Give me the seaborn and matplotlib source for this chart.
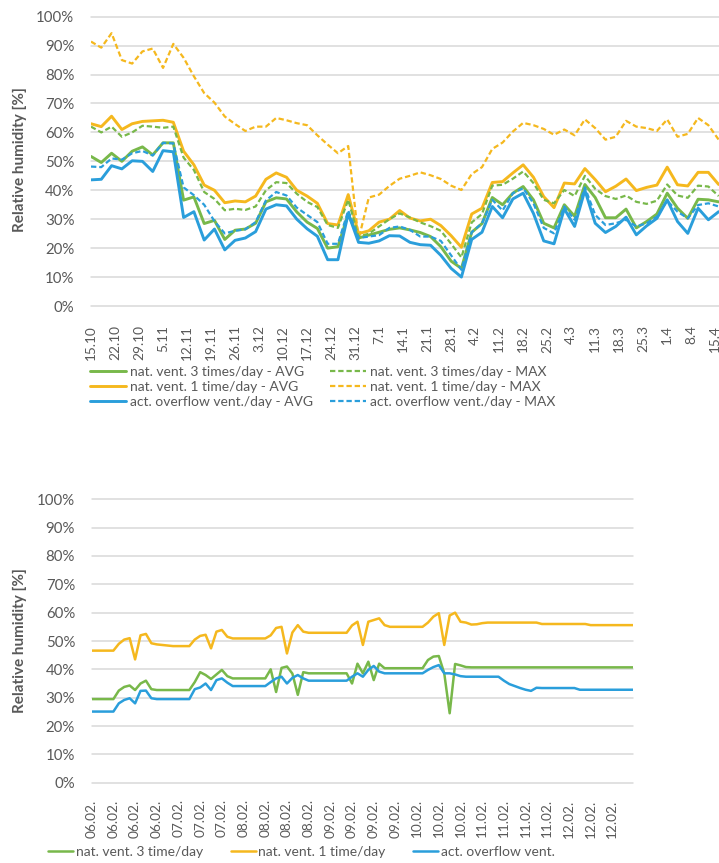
import numpy as np
import pandas as pd
import seaborn as sns
import matplotlib.pyplot as plt
from matplotlib.ticker import FuncFormatter

# ---- top chart: relative humidity, Oct 15 - Apr 15, sampled every 3 days ----
days = list(range(0, 184, 3))
week_ticks = list(range(0, 183, 7))
week_labels = ["15.10", "22.10", "29.10", "5.11", "12.11", "19.11", "26.11",
               "3.12", "10.12", "17.12", "24.12", "31.12", "7.1", "14.1",
               "21.1", "28.1", "4.2", "11.2", "18.2", "25.2", "4.3", "11.3",
               "18.3", "25.3", "1.4", "8.4", "15.4"]

green_avg = [51.7, 49.6, 52.8, 50.0, 53.5, 55.0, 52.2, 56.4, 56.4, 36.6,
             37.7, 28.5, 29.6, 23.0, 26.2, 26.6, 28.6, 36.0, 37.4, 37.0,
             32.5, 29.0, 26.8, 20.0, 20.5, 31.8, 23.5, 24.5, 25.5, 26.5,
             27.0, 26.3, 25.4, 24.0, 20.5, 15.5, 13.0, 25.5, 28.5, 37.5,
             35.0, 39.0, 41.3, 36.7, 28.6, 27.0, 35.0, 31.0, 42.0, 37.5,
             30.5, 30.5, 33.5, 27.0, 29.2, 31.8, 39.0, 33.8, 30.3, 36.9,
             36.7, 36.0]
green_max = [62.0, 60.0, 62.0, 58.5, 60.0, 62.3, 62.0, 61.6, 62.0, 51.3,
             47.0, 39.4, 37.0, 33.1, 33.6, 33.2, 34.4, 40.0, 42.8, 42.5,
             38.8, 36.0, 34.2, 28.0, 27.0, 36.7, 24.0, 25.0, 27.5, 30.0,
             32.0, 30.6, 28.9, 27.6, 26.0, 21.5, 16.8, 28.9, 31.8, 41.6,
             41.9, 44.0, 46.5, 42.5, 36.7, 35.5, 40.1, 38.0, 45.0, 40.5,
             38.0, 37.0, 38.2, 36.0, 35.3, 36.4, 42.0, 38.2, 37.4, 41.6,
             41.3, 38.0]
gold_avg = [63.0, 62.0, 65.6, 61.0, 63.0, 63.8, 64.0, 64.2, 63.5, 53.5,
            48.8, 41.8, 40.0, 35.7, 36.3, 36.0, 38.0, 43.8, 46.0, 44.5,
            40.0, 38.0, 35.5, 28.5, 28.0, 38.5, 25.0, 26.0, 29.0, 30.0,
            33.0, 30.4, 29.4, 30.0, 27.8, 24.3, 20.3, 31.8, 33.8, 42.7,
            43.0, 46.0, 48.8, 44.5, 37.8, 34.0, 42.5, 42.2, 47.5, 43.7,
            39.5, 41.4, 43.9, 39.9, 41.0, 41.8, 48.0, 41.9, 41.5, 46.2,
            46.2, 42.0]
gold_max = [91.4, 89.3, 94.3, 85.0, 83.8, 88.0, 89.0, 82.3, 90.6, 85.8,
            79.4, 73.6, 70.3, 65.5, 62.9, 60.5, 62.0, 62.0, 65.0, 64.2,
            63.2, 62.5, 59.0, 55.8, 52.8, 55.3, 23.0, 37.5, 38.5, 41.5,
            44.0, 45.0, 46.2, 45.2, 43.9, 41.6, 40.1, 45.6, 48.0, 54.3,
            56.5, 60.3, 63.3, 62.5, 61.2, 59.2, 61.0, 59.0, 64.5, 61.5,
            57.5, 58.5, 64.0, 62.0, 61.5, 60.5, 64.5, 58.5, 59.5, 65.0,
            62.5, 57.5]
blue_avg = [43.6, 43.8, 48.5, 47.4, 50.2, 50.0, 46.5, 53.7, 53.3, 30.6,
            32.6, 22.8, 26.6, 19.4, 22.7, 23.5, 25.7, 33.5, 35.0, 34.6,
            30.0, 26.7, 24.1, 16.0, 16.0, 32.0, 22.0, 21.7, 22.5, 24.3,
            24.2, 22.0, 21.2, 21.0, 17.5, 13.0, 10.0, 23.0, 25.5, 34.4,
            30.5, 37.0, 39.0, 32.0, 22.5, 21.5, 33.6, 27.5, 40.0, 28.6,
            25.4, 27.5, 30.7, 24.6, 27.7, 30.3, 36.7, 29.2, 25.1, 33.8,
            29.8, 32.6]
blue_max = [48.2, 48.0, 51.0, 50.6, 52.8, 53.6, 52.0, 56.4, 56.2, 41.0,
            38.3, 35.0, 29.3, 25.1, 26.0, 26.5, 29.0, 36.5, 39.4, 38.2,
            34.0, 31.5, 29.0, 21.5, 21.5, 33.0, 23.5, 24.0, 24.5, 27.0,
            27.5, 26.3, 24.0, 24.0, 22.5, 17.5, 12.5, 25.5, 28.6, 36.7,
            33.0, 39.0, 40.7, 35.5, 27.0, 25.1, 34.4, 29.8, 41.0, 31.5,
            28.0, 28.6, 29.8, 27.5, 28.6, 30.9, 36.4, 32.6, 30.3, 34.9,
            35.5, 34.4]

# ---- bottom chart: Feb 6 - Feb 12, sampled every quarter label step ----
steps = [i * 0.25 for i in range(101)]
feb_labels = (["06.02."] * 4 + ["07.02."] * 3 + ["08.02."] * 4 + ["09.02."] * 4
              + ["10.02."] * 3 + ["11.02."] * 4 + ["12.02."] * 3)

vent3 = [29.5, 29.5, 29.5, 29.5, 29.5, 32.5, 33.8, 34.3, 32.7, 35.0,
         36.0, 33.0, 32.7, 32.7, 32.7, 32.7, 32.7, 32.7, 32.7, 35.5,
         39.0, 38.0, 36.6, 38.2, 39.8, 37.6, 36.8, 36.8, 36.8, 36.8,
         36.8, 36.8, 36.8, 40.0, 32.0, 40.5, 41.0, 38.5, 31.0, 39.0,
         38.6, 38.6, 38.6, 38.6, 38.6, 38.6, 38.6, 38.6, 35.0, 42.0,
         38.6, 42.7, 36.2, 42.0, 40.4, 40.4, 40.4, 40.4, 40.4, 40.4,
         40.4, 40.4, 43.3, 44.5, 44.7, 38.6, 24.5, 41.9, 41.4, 40.8,
         40.7, 40.7, 40.7, 40.7, 40.7, 40.7, 40.7, 40.7, 40.7, 40.7,
         40.7, 40.7, 40.7, 40.7, 40.7, 40.7, 40.7, 40.7, 40.7, 40.7,
         40.7, 40.7, 40.7, 40.7, 40.7, 40.7, 40.7, 40.7, 40.7, 40.7,
         40.7]
vent1 = [46.6, 46.6, 46.6, 46.6, 46.6, 49.0, 50.5, 51.0, 43.5, 52.0,
         52.5, 49.2, 48.8, 48.6, 48.4, 48.2, 48.2, 48.2, 48.2, 50.5,
         51.8, 52.2, 47.4, 53.3, 53.9, 51.5, 50.9, 50.9, 50.9, 50.9,
         50.9, 50.9, 50.9, 52.0, 54.6, 55.0, 45.6, 53.0, 55.6, 53.3,
         52.9, 52.9, 52.9, 52.9, 52.9, 52.9, 52.9, 52.9, 55.5, 56.8,
         48.6, 56.8, 57.4, 58.0, 55.6, 55.0, 55.0, 55.0, 55.0, 55.0,
         55.0, 55.0, 56.5, 58.6, 59.8, 48.6, 59.0, 60.0, 56.8, 56.5,
         55.8, 55.9, 56.3, 56.5, 56.5, 56.5, 56.5, 56.5, 56.5, 56.5,
         56.5, 56.5, 56.5, 56.0, 56.0, 56.0, 56.0, 56.0, 56.0, 56.0,
         56.0, 56.0, 55.6, 55.6, 55.6, 55.6, 55.6, 55.6, 55.6, 55.6,
         55.6]
overflow = [25.1, 25.1, 25.1, 25.1, 25.1, 28.0, 29.2, 29.8, 28.0, 32.4,
            32.5, 29.8, 29.5, 29.5, 29.5, 29.5, 29.5, 29.5, 29.5, 33.0,
            33.6, 35.0, 32.7, 36.2, 36.8, 35.3, 34.1, 34.1, 34.1, 34.1,
            34.1, 34.1, 34.1, 35.5, 36.8, 37.4, 35.0, 37.0, 38.0, 36.8,
            36.0, 36.0, 36.0, 36.0, 36.0, 36.0, 36.0, 36.0, 37.4, 38.6,
            37.4, 39.8, 41.2, 39.2, 38.6, 38.6, 38.6, 38.6, 38.6, 38.6,
            38.6, 38.6, 39.8, 40.8, 41.5, 38.6, 38.6, 38.2, 37.6, 37.4,
            37.4, 37.4, 37.4, 37.4, 37.4, 37.4, 36.0, 34.8, 34.1, 33.4,
            32.8, 32.4, 33.5, 33.4, 33.4, 33.4, 33.4, 33.4, 33.4, 33.4,
            32.8, 32.8, 32.8, 32.8, 32.8, 32.8, 32.8, 32.8, 32.8, 32.8,
            32.8]

GREEN = "#78B84A"
GOLD = "#F5B81E"
BLUE = "#2A9EDB"
GRID = "#D9D9D9"
TXT = "#595959"

top_df = pd.DataFrame({"day": days, "green_avg": green_avg, "green_max": green_max,
                       "gold_avg": gold_avg, "gold_max": gold_max,
                       "blue_avg": blue_avg, "blue_max": blue_max})
bot_df = pd.DataFrame({"step": steps, "vent3": vent3, "vent1": vent1,
                       "overflow": overflow})

sns.set_theme(style="white")
plt.rcParams['font.family'] = ['Lato', 'DejaVu Sans']

W, H = 719, 863
fig = plt.figure(figsize=(W / 100, H / 100), dpi=100)
ax1 = fig.add_axes([91 / W, 1 - 306 / H, 628 / W, 289.3 / H])
ax2 = fig.add_axes([91.7 / W, 1 - 782.7 / H, 541.3 / W, 283.4 / H])

dash = (0, (2.4, 1.3))
top_series = [
    ("green_avg", GREEN, "-", 2.1, "nat. vent. 3 times/day - AVG"),
    ("gold_avg", GOLD, "-", 2.1, "nat. vent. 1 time/day - AVG"),
    ("blue_avg", BLUE, "-", 2.1, "act. overflow vent./day - AVG"),
    ("green_max", GREEN, dash, 1.6, "nat. vent. 3 times/day - MAX"),
    ("gold_max", GOLD, dash, 1.6, "nat. vent. 1 time/day - MAX"),
    ("blue_max", BLUE, dash, 1.6, "act. overflow vent./day - MAX"),
]
draw_order = ["gold_max", "gold_avg", "green_max", "green_avg", "blue_max", "blue_avg"]
handles = {}
for col in draw_order:
    _, color, ls, lw, label = next(s for s in top_series if s[0] == col)
    sns.lineplot(data=top_df, x="day", y=col, ax=ax1, color=color,
                 linestyle=ls, linewidth=lw, label=label, legend=False)
    handles[col] = ax1.get_lines()[-1]

bot_series = [("vent3", GREEN, "nat. vent. 3 time/day"),
              ("vent1", GOLD, "nat. vent. 1 time/day"),
              ("overflow", BLUE, "act. overflow vent.")]
bot_handles = []
for col, color, label in bot_series:
    sns.lineplot(data=bot_df, x="step", y=col, ax=ax2, color=color,
                 linewidth=1.8, label=label, legend=False)
    bot_handles.append(ax2.get_lines()[-1])

for ax in (ax1, ax2):
    ax.set_ylim(0, 100)
    ax.set_yticks(range(0, 101, 10))
    ax.yaxis.set_major_formatter(FuncFormatter(lambda v, p: f"{v:.0f}%"))
    ax.grid(axis="y", color=GRID, linewidth=1.1)
    ax.grid(axis="x", visible=False)
    ax.set_axisbelow(True)
    for s in ax.spines.values():
        s.set_visible(False)
    ax.tick_params(axis="y", length=0, colors=TXT, labelsize=10.8, pad=12)
    ax.tick_params(axis="x", length=0, colors=TXT, labelsize=9.8, pad=14)
    for gl in ax.get_ygridlines():
        gl.set_clip_on(False)
    ax.set_xlabel("")
    ax.set_ylabel("Relative humidity [%]", fontsize=11, fontweight="bold",
                  color=TXT)

ax1.set_xlim(0, 183.1)
ax1.set_xticks(week_ticks)
ax1.set_xticklabels(week_labels, rotation=90)
ax1.yaxis.set_label_coords((27 - 91) / 628, 0.505)

ax2.set_xlim(0, 24.95)
ax2.set_xticks(range(len(feb_labels)))
ax2.set_xticklabels(feb_labels, rotation=90)
ax2.tick_params(axis="x", pad=12)
ax2.yaxis.set_label_coords((27 - 91.7) / 541.3, 0.5)

order = ["green_avg", "gold_avg", "blue_avg", "green_max", "gold_max", "blue_max"]
labels = {s[0]: s[4] for s in top_series}
fig.legend([handles[c] for c in order], [labels[c] for c in order],
           loc="upper left", bbox_to_anchor=(90 / W, 1 - 366 / H), ncol=2,
           frameon=False, fontsize=10, labelcolor=TXT, handlelength=2.6,
           handletextpad=0.3, columnspacing=1.2, labelspacing=0.22,
           borderpad=0, borderaxespad=0)
fig.legend(bot_handles, [s[2] for s in bot_series], loc="upper left",
           bbox_to_anchor=(48 / W, 1 - 846 / H), ncol=3, frameon=False,
           fontsize=10, labelcolor=TXT, handlelength=1.8, handletextpad=0.2,
           columnspacing=2.0, borderpad=0, borderaxespad=0)

fig.savefig("out.png", dpi=100)
